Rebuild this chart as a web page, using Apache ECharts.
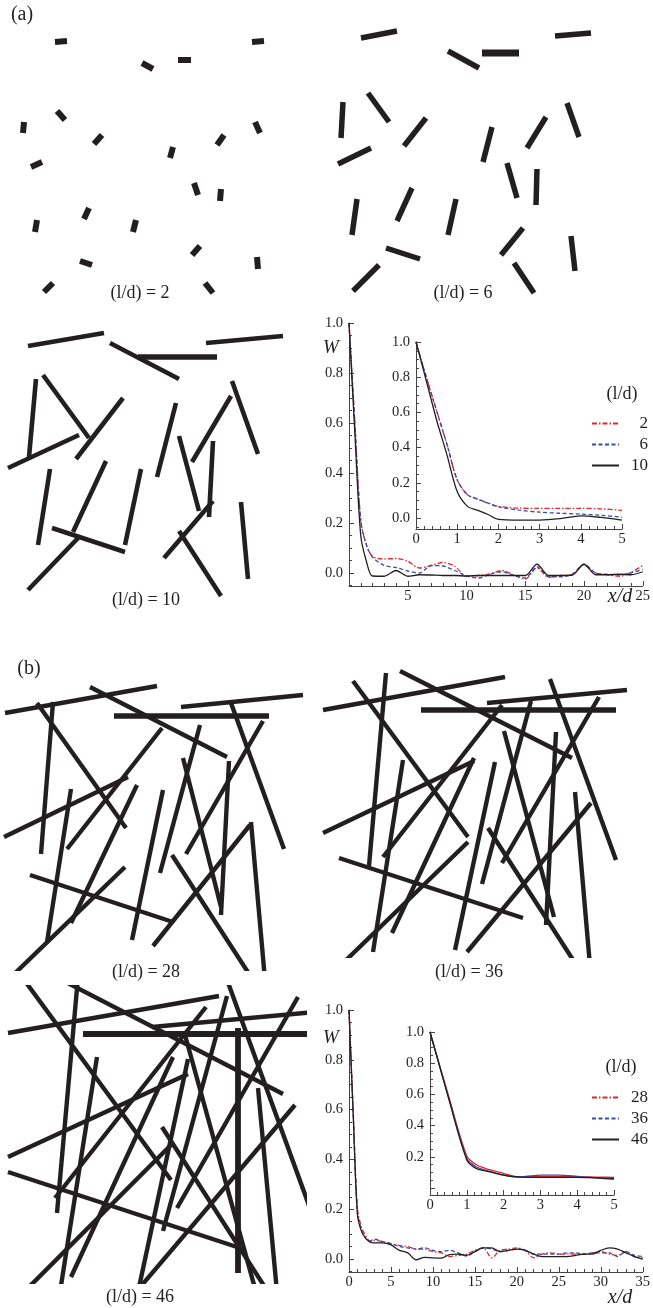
<!DOCTYPE html>
<html>
<head>
<meta charset="utf-8">
<script src="https://cdn.jsdelivr.net/npm/echarts@6/dist/echarts.min.js"></script>
<style>
  html, body { margin: 0; padding: 0; background: #fff; }
  #main { width: 653px; height: 1308px; }
</style>
</head>
<body>
<div id="main"></div>
<script>
const FONT = 'Liberation Serif';
const INK = '#231f20';
const RED = '#e3262d';
const BLUE = '#3b4da0';

// rods as [x1, y1, x2, y2] in panel units (y grows downward)
const rods2 = [
  [55,42,67,41],[142,63,153,69],[178,60,191,60],[252,42,264,41],[57,111,65,120],
  [24,122,23,133],[94,144,102,135],[173,147,170,158],[217,145,224,135],[255,122,260,133],
  [31,167,42,162],[194,183,198,195],[221,189,220,201],[89,208,84,219],[37,220,35,232],
  [136,220,133,232],[192,255,200,246],[80,261,92,265],[257,257,258,269],[44,292,53,283],
  [205,283,213,293]
];
const rods6 = [
  [41,38,77,31],[128,51,159,68],[162,53,199,53],[235,36,271,33],[23,102,21,138],
  [48,93,69,122],[84,146,106,118],[172,127,163,162],[207,148,226,117],[247,103,259,137],
  [18,164,51,148],[187,163,197,198],[217,169,216,205],[92,188,77,221],[37,199,32,235],
  [136,199,128,235],[181,255,203,228],[66,248,100,259],[251,236,255,271],[33,291,59,265],
  [194,263,214,293]
];
const rods10 = [
  [28,36,104,23],[110,33,179,69],[138,47,217,47],[206,33,283,26],[36,69,29,147],
  [43,65,89,128],[76,149,123,88],[176,93,157,167],[192,152,231,86],[232,71,258,144],
  [8,158,79,125],[179,126,199,201],[213,131,209,207],[106,151,73,222],[50,159,38,235],
  [141,159,125,235],[164,248,213,191],[52,218,125,242],[241,192,248,269],[28,280,80,226],
  [179,221,221,286]
];
const rods28 = [
  [5,73,157,46],[90,47,227,117],[114,76,269,76],[181,67,303,55],[53,62,41,214],
  [37,63,126,188],[67,209,162,88],[200,85,160,233],[186,214,263,81],[231,63,284,209],
  [4,197,128,137],[183,118,221,267],[229,121,221,275],[137,145,71,283],[71,149,47,302],
  [163,150,132,300],[153,306,250,185],[30,235,173,282],[251,182,265,340],[8,340,125,227],
  [172,215,253,340]
];
const rods36 = [
  [3,70,185,37],[80,31,252,118],[101,70,296,70],[167,63,307,50],[66,33,49,226],
  [33,41,148,197],[63,217,182,65],[211,61,162,244],[182,223,279,57],[230,39,296,220],
  [3,193,154,121],[184,91,234,277],[236,92,226,285],[154,118,72,293],[83,120,53,312],
  [175,122,135,310],[147,312,271,163],[19,218,203,278],[255,152,270,326],[20,326,148,202],
  [168,188,257,326]
];
const rods46 = [
  [8,53,219,16],[56,-3,283,114],[83,54,315,54],[152,47,315,32],[78,-3,57,233],
  [22,-3,171,200],[55,218,206,27],[227,16,163,251],[177,228,298,17],[226,-3,315,242],
  [8,177,188,94],[185,55,256,312],[238,48,238,293],[173,77,71,297],[97,77,60,312],
  [188,79,138,312],[136,312,295,125],[8,192,240,268],[258,108,277,312],[24,312,173,163],
  [162,147,268,312]
];

// W(x/d), panel (a)
const xA = [0,0.5,1,1.5,2,3,4,5,6,7,8,9,10,11,12,13,14,15,16,17,18,19,20,21,22,23,24,25];
const wA2 = [1.0,0.6,0.21,0.11,0.066,0.056,0.058,0.047,0.02,0.03,0.042,0.027,-0.013,-0.01,-0.004,0.01,-0.007,-0.024,0.02,-0.017,-0.01,-0.007,0.033,0.0,-0.007,-0.013,0.003,0.03];
const wA6 = [1.0,0.6,0.21,0.11,0.064,0.03,0.022,0.008,0.0,0.03,0.028,0.01,-0.012,-0.02,-0.005,0.005,-0.01,-0.02,0.025,-0.015,-0.015,-0.005,0.035,0.0,-0.005,-0.008,0.0,0.015];
const wA10 = [1.0,0.557,0.15,0.043,-0.012,-0.013,0.01,-0.013,-0.007,-0.008,-0.01,-0.01,-0.012,-0.01,-0.01,-0.01,-0.01,-0.01,0.035,-0.01,-0.01,-0.008,0.035,-0.007,-0.007,-0.005,-0.007,0.005];
const xAin = [0,0.25,0.5,0.75,1,1.25,1.5,1.75,2,2.5,3,3.5,4,4.5,5];
const wA2in = [1.0,0.8,0.61,0.42,0.217,0.132,0.107,0.085,0.066,0.056,0.055,0.055,0.055,0.052,0.043];
const wA6in = [1.0,0.8,0.61,0.42,0.217,0.132,0.107,0.085,0.063,0.045,0.033,0.027,0.022,0.015,0.005];
const wA10in = [1.0,0.78,0.557,0.36,0.15,0.066,0.043,0.02,-0.008,-0.012,-0.012,-0.004,0.012,0.003,-0.012];

// W(x/d), panel (b)
const xB = [0,0.5,1,1.5,2,2.5,3,4,5,6,7,8,9,10,11,12,13,14,15,16,17,18,19,20,21,22,23,24,25,26,27,28,29,30,31,32,33,34,35];
const wB28 = [1.0,0.595,0.205,0.126,0.094,0.072,0.075,0.07,0.062,0.055,0.05,0.04,0.04,0.03,0.025,0.01,0.015,0.02,0.035,0.045,0.005,0.035,0.04,0.045,0.035,0.005,0.02,0.025,0.02,0.02,0.02,0.02,0.025,0.03,0.02,0.015,0.03,0.01,0.005];
const wB36 = [1.0,0.584,0.19,0.115,0.083,0.072,0.08,0.07,0.062,0.05,0.045,0.04,0.045,0.035,0.03,0.035,0.025,0.012,0.03,0.045,0.04,0.03,0.035,0.04,0.035,0.02,0.02,0.02,0.02,0.025,0.025,0.02,0.025,0.025,0.025,0.01,0.03,0.015,0.01];
const wB46 = [1.0,0.58,0.18,0.11,0.083,0.068,0.065,0.065,0.057,0.035,0.025,-0.003,0.007,0.005,0.004,0.018,0.02,0.015,0.03,0.045,0.045,0.03,0.035,0.04,0.035,0.02,0.01,0.01,0.01,0.01,0.015,0.02,0.02,0.035,0.045,0.04,0.025,0.01,0.0];
const xBin = [0,0.5,1,1.25,1.5,2,2.3,2.5,3,3.5,4,4.5,5];
const wB28in = [1.0,0.595,0.205,0.15,0.126,0.094,0.075,0.072,0.072,0.072,0.072,0.07,0.068];
const wB36in = [1.0,0.584,0.19,0.136,0.115,0.083,0.073,0.073,0.083,0.083,0.075,0.065,0.055];
const wB46in = [1.0,0.58,0.18,0.126,0.11,0.083,0.072,0.07,0.068,0.068,0.068,0.065,0.062];

const rodPanels = [
  { rods: rods2,  box: [0, 0, 330, 310],    y0: 0, width: 6,   thick: [],      thickWidth: 6 },
  { rods: rods6,  box: [320, 0, 333, 310],  y0: 0, width: 5.5, thick: [2],     thickWidth: 7 },
  { rods: rods10, box: [0, 310, 320, 300],  y0: 0, width: 4.6, thick: [2],     thickWidth: 5.5 },
  { rods: rods28, box: [0, 640, 320, 331],  y0: 0, width: 4.4, thick: [2],     thickWidth: 5.5 },
  { rods: rods36, box: [320, 640, 333, 318], y0: 0, width: 4.4, thick: [2],    thickWidth: 5.5 },
  { rods: rods46, box: [0, 985, 307, 299],  y0: 5, width: 4.4, thick: [2, 12], thickWidth: 5.8 }
];

// plots: main (a), inset (a), main (b), inset (b)
const plots = [
  { box: [349, 323, 296, 263], xmax: 25, xint: 5, ymin: -0.052, showX0: false, hideY0: false, fs: 14.5 },
  { box: [416, 342, 206, 187], xmax: 5,  xint: 1, ymin: -0.0625, showX0: true, hideY0: false, fs: 14.5 },
  { box: [349, 1010, 296, 262], xmax: 35, xint: 5, ymin: -0.052, showX0: true, hideY0: false, fs: 14.5 },
  { box: [430, 1032, 184, 163], xmax: 5,  xint: 1, ymin: -0.045, showX0: true, hideY0: true, fs: 14.5 }
];

const grid = [], xAxis = [], yAxis = [], series = [];

rodPanels.forEach((p, i) => {
  grid.push({ left: p.box[0], top: p.box[1], width: p.box[2], height: p.box[3] });
  xAxis.push({ type: 'value', gridIndex: i, min: 0, max: p.box[2], show: false });
  yAxis.push({ type: 'value', gridIndex: i, min: p.y0, max: p.y0 + p.box[3], inverse: true, show: false });
  series.push({
    type: 'custom', xAxisIndex: i, yAxisIndex: i, clip: true, silent: true,
    data: p.rods, encode: { x: [0, 2], y: [1, 3] },
    renderItem: (params, api) => {
      const a = api.coord([api.value(0), api.value(1)]);
      const b = api.coord([api.value(2), api.value(3)]);
      const lw = p.thick.indexOf(params.dataIndex) >= 0 ? p.thickWidth : p.width;
      return {
        type: 'line',
        shape: { x1: a[0], y1: a[1], x2: b[0], y2: b[1] },
        style: { stroke: INK, lineWidth: lw, lineCap: 'butt' }
      };
    }
  });
});

const axisCommon = {
  axisLine: { show: true, onZero: false, lineStyle: { color: '#444', width: 1 } },
  axisTick: { show: true, inside: true, length: 5, lineStyle: { color: '#444' } },
  minorTick: { show: true, length: 3, lineStyle: { color: '#444' } },
  splitLine: { show: false }
};

plots.forEach((p, k) => {
  const gi = rodPanels.length + k;
  grid.push({ left: p.box[0], top: p.box[1], width: p.box[2], height: p.box[3] });
  xAxis.push(Object.assign({}, axisCommon, {
    type: 'value', gridIndex: gi, min: 0, max: p.xmax, interval: p.xint,
    minorTick: Object.assign({}, axisCommon.minorTick, { splitNumber: 5 }),
    axisLabel: { showMinLabel: p.showX0, margin: 3, fontFamily: FONT, fontSize: p.fs, color: INK }
  }));
  yAxis.push(Object.assign({}, axisCommon, {
    type: 'value', gridIndex: gi, min: p.ymin, max: 1, minInterval: 0.2, maxInterval: 0.2,
    minorTick: Object.assign({}, axisCommon.minorTick, { splitNumber: 4 }),
    axisLabel: {
      showMinLabel: false, margin: 6, fontFamily: FONT, fontSize: p.fs, color: INK,
      formatter: v => (p.hideY0 && Math.abs(v) < 1e-9) ? '' : v.toFixed(1)
    }
  }));
});

function pairs(xs, ys) { return xs.map((x, i) => [x, ys[i]]); }

function curve(name, gi, xs, ys, color, type) {
  return {
    name: name, type: 'line', xAxisIndex: gi, yAxisIndex: gi,
    data: pairs(xs, ys), symbol: 'none', showSymbol: false, smooth: 0.3,
    lineStyle: { color: color, width: 1.3, type: type },
    itemStyle: { color: color }, silent: true
  };
}

const DASHDOT = [5, 2, 1.5, 2];
const DASH = [4, 2.5];
const g0 = rodPanels.length;
series.push(
  curve('2', g0, xA, wA2, RED, DASHDOT),
  curve('6', g0, xA, wA6, BLUE, DASH),
  curve('10', g0, xA, wA10, INK, 'solid'),
  curve('2', g0 + 1, xAin, wA2in, RED, DASHDOT),
  curve('6', g0 + 1, xAin, wA6in, BLUE, DASH),
  curve('10', g0 + 1, xAin, wA10in, INK, 'solid'),
  curve('28', g0 + 2, xB, wB28, RED, DASHDOT),
  curve('36', g0 + 2, xB, wB36, BLUE, DASH),
  curve('46', g0 + 2, xB, wB46, INK, 'solid'),
  curve('28', g0 + 3, xBin, wB28in, RED, 'solid'),
  curve('36', g0 + 3, xBin, wB36in, BLUE, 'solid'),
  curve('46', g0 + 3, xBin, wB46in, INK, 'solid')
);

function legendAt(names, left, top) {
  return {
    data: names, orient: 'vertical', left: left, top: top,
    itemWidth: 27, itemHeight: 14, itemGap: 4, selectedMode: false,
    itemStyle: { color: 'rgba(0,0,0,0)', borderWidth: 0, opacity: 0 },
    formatter: '{n|{name}}',
    textStyle: { rich: { n: { width: 24, align: 'right', fontFamily: FONT, fontSize: 17, lineHeight: 17, color: INK } } }
  };
}

function txt(text, x, y, size, italic) {
  return {
    type: 'text', x: x, y: y, silent: true,
    style: {
      text: text, fill: INK, align: 'center', verticalAlign: 'middle',
      font: (italic ? 'italic ' : '') + size + 'px "' + FONT + '"'
    }
  };
}

const option = {
  backgroundColor: '#fff',
  animation: false,
  grid: grid,
  xAxis: xAxis,
  yAxis: yAxis,
  legend: [legendAt(['2', '6', '10'], 586, 410), legendAt(['28', '36', '46'], 586, 1084)],
  graphic: [
    txt('(a)', 22, 15, 20),
    txt('(b)', 29, 669, 20),
    txt('(l/d) = 2', 140, 293, 18),
    txt('(l/d) = 6', 463, 293, 18),
    txt('(l/d) = 10', 146, 600, 18),
    txt('(l/d) = 28', 146, 972, 18),
    txt('(l/d) = 36', 469, 972, 18),
    txt('(l/d) = 46', 140, 1297, 18),
    txt('W', 331, 348, 19, true),
    txt('W', 331, 1038, 19, true),
    txt('x/d', 620, 597, 20, true),
    txt('x/d', 620, 1298, 20, true),
    txt('(l/d)', 622, 394, 18),
    txt('(l/d)', 621, 1067, 18)
  ],
  series: series
};

const chart = echarts.init(document.getElementById('main'));
chart.setOption(option);
</script>
</body>
</html>
